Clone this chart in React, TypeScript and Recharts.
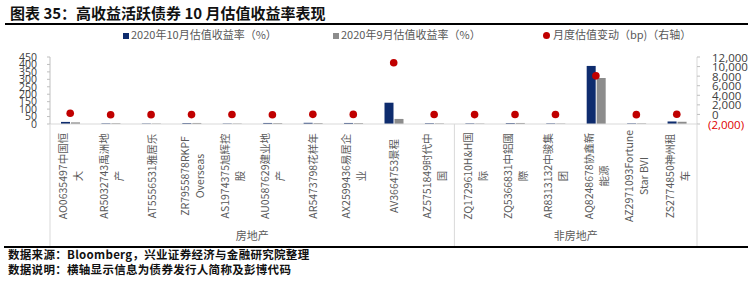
import React from "react";
import { ComposedChart, Bar, Scatter, XAxis, YAxis } from "recharts";

// bonds on the x axis, with the lines the labels wrap into
const categories = [
  "AO0635497中国恒大",
  "AR5032743禹洲地产",
  "AT5556531雅居乐",
  "ZR7955878RKPF Overseas",
  "AS1974375旭辉控股",
  "AU0587629建业地产",
  "AR5473798花样年",
  "AX2599436易居企业",
  "AV3664753景程",
  "AZ5751849时代中国",
  "ZQ1729610H&H国际",
  "ZQ5366831中鋁國際",
  "AR8313132中骏集团",
  "AQ8248678协鑫新能源",
  "AZ2971093Fortune Star BVI",
  "ZS2774850神州租车",
];
const tickLabels = [
  ["AO0635497中国恒", "大"],
  ["AR5032743禹洲地", "产"],
  ["AT5556531雅居乐"],
  ["ZR7955878RKPF", "Overseas"],
  ["AS1974375旭辉控", "股"],
  ["AU0587629建业地", "产"],
  ["AR5473798花样年"],
  ["AX2599436易居企", "业"],
  ["AV3664753景程"],
  ["AZ5751849时代中", "国"],
  ["ZQ1729610H&H国", "际"],
  ["ZQ5366831中鋁國", "際"],
  ["AR8313132中骏集", "团"],
  ["AQ8248678协鑫新", "能源"],
  ["AZ2971093Fortune", "Star BVI"],
  ["ZS2774850神州租", "车"],
];
const groups = [
  "房地产", "房地产", "房地产", "房地产", "房地产",
  "房地产", "房地产", "房地产", "房地产", "房地产",
  "非房地产", "非房地产", "非房地产", "非房地产", "非房地产", "非房地产",
];

// 估值收益率 (%), 估值变动 (bp)
const yieldOct = [14, 4, 3, 6, 3, 7, 8, 7, 143, 5, 4, 6, 4, 390, 4, 17];
const yieldSep = [11, 5, 3, 7, 3, 6, 6, 6, 34, 4, 3, 7, 3, 309, 4, 15];
const changeBp = [260, -60, -50, -40, -30, -60, 20, 10, 10800, -30, -40, -30, -20, 8060, -50, 40];

const leftTicks = [0, 50, 100, 150, 200, 250, 300, 350, 400, 450];
const rightTicks = [-2000, 0, 2000, 4000, 6000, 8000, 10000, 12000];

const data = categories.map((name, i) => ({
  name,
  oct: yieldOct[i],
  sep: yieldSep[i],
  change: changeBp[i],
}));

const navy = "#0e2c6e";
const grey = "#8c8c8c";
const red = "#c00000";
const axisGrey = "#d9d9d9";
const textGrey = "#595959";
const numFont = "'Open Sans', 'Noto Sans', sans-serif";
const cjkFont = "'Noto Sans CJK SC', sans-serif";

function CategoryTick(props: any) {
  const { x, y, payload } = props;
  const i = payload.index;
  const half = payload.offset || 20.2;
  const lines = tickLabels[i];
  const cy = y + 52;
  const lineGap = 15;
  const out: any[] = [];
  lines.forEach((t, k) => {
    const lx = x + (k - (lines.length - 1) / 2) * lineGap;
    out.push(
      <text
        key={"t" + k}
        x={lx}
        y={cy}
        transform={`rotate(-90 ${lx} ${cy})`}
        textAnchor="middle"
        dominantBaseline="central"
        fontSize={10.5}
        fontFamily={cjkFont}
        fill={textGrey}
      >
        {t}
      </text>
    );
  });
  const g = groups[i];
  if (i === 0 || groups[i - 1] !== g) {
    out.push(<line key="l0" x1={x - half} x2={x - half} y1={y} y2={y + 123} stroke={axisGrey} />);
  }
  if (i === groups.length - 1) {
    out.push(<line key="l1" x1={x + half} x2={x + half} y1={y} y2={y + 123} stroke={axisGrey} />);
  }
  const start = groups.indexOf(g);
  const end = groups.lastIndexOf(g);
  const mid = (start + end) / 2;
  if (Math.floor(mid) === i) {
    const gx = x + (mid - i) * 2 * half;
    out.push(
      <text key="g" x={gx} y={y + 111} textAnchor="middle" dominantBaseline="central"
        fontSize={11} fontFamily={cjkFont} fill={textGrey}>
        {g}
      </text>
    );
  }
  return <g>{out}</g>;
}

function RightTick(props: any) {
  const { y, payload } = props;
  const v = payload.value;
  const neg = v < 0;
  const s = Math.abs(v).toLocaleString("en-US");
  return (
    <text x={neg ? 708 : 712} y={y} dominantBaseline="central" fontSize={11.5}
      fontFamily={numFont} fill={neg ? "#e00000" : "#404040"}>
      {neg ? `(${s})` : s}
    </text>
  );
}

export default function App() {
  return (
    <div style={{ position: "relative", width: 756, height: 281, background: "#fff", overflow: "hidden" }}>
      <style>{`body{margin:0}`}</style>
      <div style={{ position: "absolute", left: 10, top: 3, fontSize: 15, fontWeight: 700, fontFamily: cjkFont, color: "#111", whiteSpace: "nowrap", lineHeight: "20px" }}>
        图表 35：高收益活跃债券 10 月估值收益率表现
      </div>
      <div style={{ position: "absolute", left: 5, top: 23, width: 743, height: 1.5, background: "#000" }} />

      <div style={{ position: "absolute", left: 123, top: 26, fontSize: 11, fontFamily: cjkFont, color: textGrey, whiteSpace: "nowrap", lineHeight: "16px" }}>
        <span style={{ display: "inline-block", width: 6, height: 6, background: navy, marginRight: 2 }} />
        2020年10月估值收益率（%）
      </div>
      <div style={{ position: "absolute", left: 333, top: 26, fontSize: 11, fontFamily: cjkFont, color: textGrey, whiteSpace: "nowrap", lineHeight: "16px" }}>
        <span style={{ display: "inline-block", width: 6, height: 6, background: grey, marginRight: 2 }} />
        2020年9月估值收益率（%）
      </div>
      <div style={{ position: "absolute", left: 543, top: 26, fontSize: 11, fontFamily: cjkFont, color: textGrey, whiteSpace: "nowrap", lineHeight: "16px" }}>
        <span style={{ display: "inline-block", width: 7, height: 7, borderRadius: 4, background: red, marginRight: 3 }} />
        月度估值变动（bp)（右轴）
      </div>

      <div style={{ position: "absolute", left: 0, top: 0 }}>
        <ComposedChart width={756} height={281} data={data} barSize={9} barGap={1}
          margin={{ top: 57, right: 0, bottom: 0, left: 10 }}>
          <XAxis dataKey="name" interval={0} height={157} tickSize={0} tickMargin={0}
            tickLine={false} axisLine={{ stroke: axisGrey }} tick={(p: any) => <CategoryTick {...p} />} />
          <YAxis yAxisId="left" width={40} domain={[0, 450]} ticks={leftTicks} interval={0}
            tickSize={3} tickMargin={10} axisLine={{ stroke: "#bfbfbf" }} tickLine={{ stroke: "#bfbfbf" }}
            tick={{ fontSize: 10.5, fill: "#404040", fontFamily: numFont }} />
          <YAxis yAxisId="right" orientation="right" width={59} domain={[-2000, 12000]} ticks={rightTicks}
            interval={0} tickSize={3} tickMargin={12} axisLine={{ stroke: axisGrey }} tickLine={{ stroke: "#bfbfbf" }}
            tick={(p: any) => <RightTick {...p} />} />
          <Bar yAxisId="left" dataKey="oct" fill={navy} isAnimationActive={false} />
          <Bar yAxisId="left" dataKey="sep" fill={grey} isAnimationActive={false} />
          <Scatter yAxisId="right" dataKey="change" isAnimationActive={false}
            shape={(p: any) => <circle cx={p.cx} cy={p.cy} r={3.8} fill={red} />} />
        </ComposedChart>
      </div>

      <div style={{ position: "absolute", left: 4, top: 246, width: 744, height: 1.5, background: "#000" }} />
      <div style={{ position: "absolute", left: 8, top: 247, fontSize: 11.5, fontWeight: 700, fontFamily: cjkFont, color: "#111", whiteSpace: "nowrap", lineHeight: "15px", letterSpacing: 0.3 }}>
        数据来源：Bloomberg，兴业证券经济与金融研究院整理
        <br />
        数据说明：横轴显示信息为债券发行人简称及彭博代码
      </div>
    </div>
  );
}
